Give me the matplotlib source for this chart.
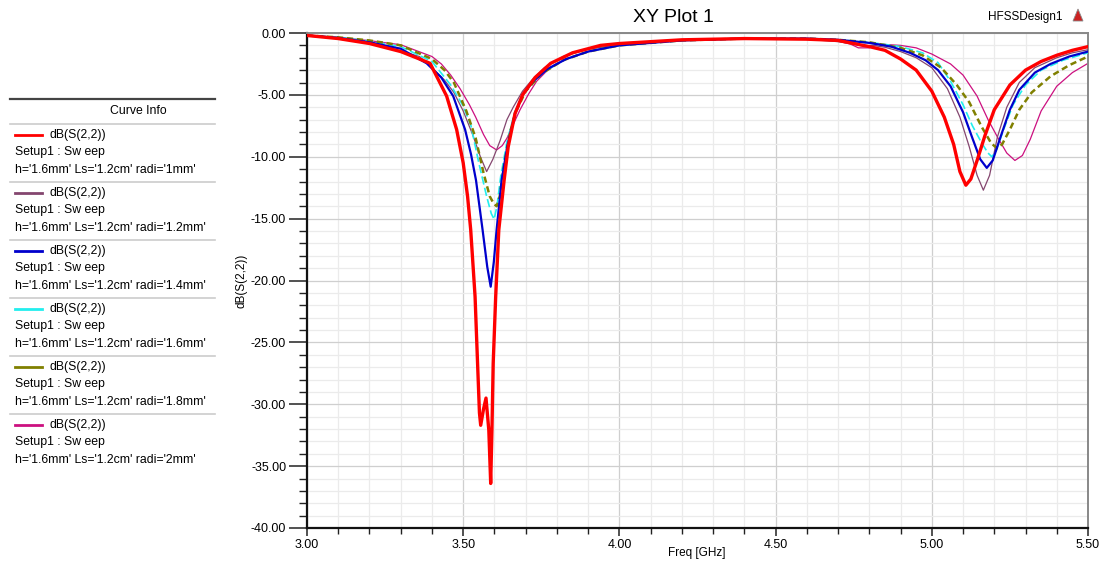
import matplotlib
matplotlib.use("Agg")
import matplotlib.pyplot as plt
from matplotlib.lines import Line2D
from matplotlib.patches import Polygon
from matplotlib.ticker import MultipleLocator, FormatStrFormatter

plt.rcParams['font.family'] = ['Liberation Sans Narrow', 'Liberation Sans', 'DejaVu Sans']

# values (freq in GHz, dB(S(2,2)))
freq_1mm = [3.00, 3.10, 3.20, 3.30, 3.36, 3.394, 3.447, 3.479, 3.500, 3.514, 3.524, 3.538, 3.546,
            3.552, 3.556, 3.565, 3.573, 3.582, 3.588, 3.592, 3.596, 3.604, 3.614, 3.631, 3.644,
            3.666, 3.69, 3.73, 3.78, 3.85, 3.94, 4.00, 4.20, 4.40, 4.60, 4.70, 4.80, 4.85, 4.90,
            4.95, 5.00, 5.04, 5.07, 5.09, 5.109, 5.125, 5.145, 5.17, 5.20, 5.25, 5.30, 5.35,
            5.40, 5.45, 5.50]
s22_1mm = [-0.2, -0.45, -0.85, -1.5, -2.1, -2.45, -5.1, -7.8, -10.5, -13.2, -15.9, -21.3, -26.7,
           -30.7, -31.7, -30.4, -29.5, -32.1, -36.4, -32.1, -26.7, -21.3, -15.9, -11.9, -9.2,
           -6.5, -5.0, -3.6, -2.45, -1.6, -1.0, -0.85, -0.55, -0.45, -0.5, -0.6, -1.1, -1.4, -2.1,
           -3.0, -4.7, -6.8, -9.0, -11.2, -12.3, -11.8, -10.3, -8.3, -6.2, -4.2, -3.0, -2.3,
           -1.8, -1.4, -1.1]

freq_12mm = [3.00, 3.10, 3.20, 3.30, 3.36, 3.40, 3.44, 3.47, 3.50, 3.53, 3.555, 3.575, 3.595,
             3.618, 3.64, 3.66, 3.69, 3.72, 3.76, 3.82, 3.90, 4.00, 4.20, 4.40, 4.60, 4.70,
             4.75, 4.78, 4.81, 4.85, 4.90, 4.95, 5.00, 5.05, 5.09, 5.12, 5.145, 5.165, 5.185,
             5.21, 5.24, 5.28, 5.33, 5.40, 5.45, 5.50]
s22_12mm = [-0.2, -0.35, -0.7, -1.45, -1.9, -2.8, -3.8, -4.8, -6.3, -8.2, -10.0, -11.2, -10.2,
            -8.7, -7.0, -6.0, -4.7, -3.8, -2.8, -1.9, -1.3, -0.95, -0.6, -0.45, -0.5, -0.7,
            -0.9, -1.05, -1.0, -1.15, -1.5, -2.0, -2.8, -4.5, -6.8, -9.2, -11.5, -12.7, -11.5,
            -8.4, -6.0, -4.0, -2.8, -2.0, -1.6, -1.35]

freq_14mm = [3.00, 3.10, 3.20, 3.30, 3.383, 3.43, 3.468, 3.506, 3.525, 3.541, 3.562, 3.577,
             3.588, 3.598, 3.607, 3.623, 3.641, 3.666, 3.69, 3.724, 3.77, 3.83, 3.90, 4.00,
             4.20, 4.40, 4.60, 4.70, 4.80, 4.87, 4.93, 4.98, 5.02, 5.06, 5.10, 5.13, 5.155,
             5.176, 5.195, 5.22, 5.25, 5.28, 5.33, 5.38, 5.44, 5.50]
s22_14mm = [-0.2, -0.4, -0.75, -1.27, -2.45, -3.6, -5.1, -7.8, -9.8, -11.9, -15.9, -18.9,
            -20.5, -18.5, -15.9, -11.9, -9.2, -6.5, -5.0, -3.9, -2.9, -2.1, -1.5, -1.0,
            -0.6, -0.45, -0.45, -0.55, -0.8, -1.1, -1.6, -2.2, -3.0, -4.3, -6.4, -8.5, -10.2,
            -10.9, -10.3, -8.4, -6.2, -4.6, -3.2, -2.5, -1.9, -1.5]

freq_16mm = [3.00, 3.10, 3.20, 3.30, 3.40, 3.46, 3.50, 3.525, 3.55, 3.575, 3.59, 3.599, 3.608,
             3.62, 3.64, 3.665, 3.70, 3.75, 3.82, 3.90, 4.00, 4.20, 4.40, 4.60, 4.70, 4.80,
             4.90, 4.97, 5.02, 5.06, 5.10, 5.13, 5.16, 5.18, 5.192, 5.205, 5.23, 5.26, 5.30,
             5.35, 5.42, 5.50]
s22_16mm = [-0.2, -0.35, -0.65, -1.1, -2.3, -4.2, -5.9, -7.5, -10.5, -13.2, -14.6, -15.05,
            -14.0, -11.6, -8.8, -6.4, -4.6, -3.3, -2.2, -1.5, -1.0, -0.6, -0.45, -0.45, -0.55,
            -0.75, -1.1, -1.6, -2.4, -3.9, -5.8, -7.5, -8.9, -9.7, -10.0, -9.6, -7.8, -5.8,
            -4.2, -3.0, -2.2, -1.6]

freq_18mm = [3.00, 3.10, 3.20, 3.30, 3.40, 3.44, 3.47, 3.51, 3.54, 3.565, 3.585, 3.598, 3.607,
             3.617, 3.63, 3.65, 3.67, 3.70, 3.75, 3.82, 3.90, 4.00, 4.20, 4.40, 4.60, 4.70,
             4.80, 4.90, 4.97, 5.03, 5.08, 5.12, 5.16, 5.19, 5.208, 5.225, 5.25, 5.28, 5.32,
             5.38, 5.44, 5.50]
s22_18mm = [-0.2, -0.35, -0.6, -1.0, -2.1, -3.0, -4.0, -6.3, -8.5, -11.3, -13.2, -13.8, -14.0,
            -13.2, -10.8, -8.0, -6.3, -4.7, -3.3, -2.2, -1.5, -1.0, -0.6, -0.45, -0.45, -0.55,
            -0.75, -1.2, -1.8, -2.8, -4.2, -5.6, -7.6, -8.9, -9.3, -9.0, -7.8, -6.2, -4.8,
            -3.5, -2.6, -1.9]

freq_2mm = [3.00, 3.10, 3.20, 3.30, 3.40, 3.43, 3.46, 3.49, 3.52, 3.54, 3.565, 3.585, 3.607,
            3.625, 3.64, 3.66, 3.682, 3.71, 3.735, 3.77, 3.82, 3.90, 4.00, 4.20, 4.40, 4.60,
            4.70, 4.74, 4.765, 4.80, 4.83, 4.90, 4.95, 5.00, 5.06, 5.10, 5.145, 5.18, 5.21,
            5.24, 5.266, 5.29, 5.315, 5.35, 5.40, 5.45, 5.50]
s22_2mm = [-0.2, -0.35, -0.62, -0.95, -1.9, -2.5, -3.4, -4.5, -5.8, -6.8, -8.2, -9.1, -9.45,
           -9.1, -8.5, -7.4, -6.2, -4.9, -3.9, -3.0, -2.2, -1.5, -1.0, -0.6, -0.45, -0.5,
           -0.65, -0.9, -1.2, -1.2, -0.9, -1.0, -1.2, -1.7, -2.5, -3.4, -5.1, -7.0, -8.4,
           -9.7, -10.3, -9.9, -8.6, -6.3, -4.3, -3.2, -2.45]

curve_names = ["1mm", "1.2mm", "1.4mm", "1.6mm", "1.8mm", "2mm"]
xticks = [3.00, 3.50, 4.00, 4.50, 5.00, 5.50]

series = [
    # (freq, s22, color, lw, linestyle, zorder)
    (freq_2mm, s22_2mm, "#cc1080", 0.9, "-", 2),
    (freq_12mm, s22_12mm, "#84466f", 0.9, "-", 3),
    (freq_16mm, s22_16mm, "#22eeee", 1.2, (0, (5, 2)), 4),
    (freq_18mm, s22_18mm, "#808000", 1.8, (0, (2.5, 1.5)), 5),
    (freq_14mm, s22_14mm, "#0000cc", 1.6, "-", 6),
    (freq_1mm, s22_1mm, "#ff0000", 2.4, "-", 7),
]
legend_colors = ["#ff0000", "#84466f", "#0000cc", "#22eeee", "#808000", "#cc1080"]

W, H = 1099, 561


def fx(px):
    return px / W


def fy(py):
    return 1 - py / H


fig = plt.figure(figsize=(10.99, 5.61), dpi=100)
ax = fig.add_axes([fx(307), fy(528), (1088 - 307) / W, (528 - 33) / H])

for f, s, c, lw, ls, z in series:
    ax.plot(f, s, color=c, lw=lw, ls=ls, zorder=z)

ax.set_xlim(3.0, 5.5)
ax.set_ylim(-40, 0)
ax.set_xticks(xticks)
ax.xaxis.set_minor_locator(MultipleLocator(0.1))
ax.yaxis.set_major_locator(MultipleLocator(5))
ax.yaxis.set_minor_locator(MultipleLocator(1))
ax.xaxis.set_major_formatter(FormatStrFormatter('%.2f'))
ax.yaxis.set_major_formatter(FormatStrFormatter('%.2f'))
ax.grid(which='major', color='#cfcfcf', lw=0.9)
ax.grid(which='minor', color='#ebebeb', lw=0.9)
ax.set_axisbelow(True)
ax.tick_params(which='major', labelsize=9, width=1.2, color='#333333')
ax.tick_params(which='minor', width=1.0, color='#222222')
ax.tick_params(axis='x', which='major', length=6, pad=2)
ax.tick_params(axis='x', which='minor', length=4)
ax.tick_params(axis='y', which='major', length=13, pad=2)
ax.tick_params(axis='y', which='minor', length=6)
for side in ['left', 'bottom']:
    ax.spines[side].set_color('#111111')
    ax.spines[side].set_linewidth(1.6)
for side in ['top', 'right']:
    ax.spines[side].set_color('#888888')
    ax.spines[side].set_linewidth(1.4)

fig.text(fx(697), fy(553), 'Freq [GHz]', ha='center', va='center', fontsize=8.5)
fig.text(fx(242), fy(281), 'dB(S(2,2))', ha='center', va='center', fontsize=8.5, rotation=90)

fig.text(fx(673), fy(17), 'XY Plot 1', ha='center', va='center', fontsize=14)
fig.text(fx(1025), fy(17), 'HFSSDesign1', ha='center', va='center', fontsize=8.5)
fig.patches.append(Polygon([[fx(1073), fy(21)], [fx(1083), fy(21)], [fx(1078), fy(9)]],
                           closed=True, transform=fig.transFigure,
                           facecolor='#cc2222', edgecolor='#888888', lw=0.6))

# legend panel (Curve Info)
fig.add_artist(Line2D([fx(10), fx(215)], [fy(99), fy(99)], color='#444444', lw=1.6))
fig.text(fx(138), fy(111), 'Curve Info', ha='center', va='center', fontsize=8.8)
fig.add_artist(Line2D([fx(10), fx(215)], [fy(124), fy(124)], color='#cccccc', lw=1.2))
for i, (name, col) in enumerate(zip(curve_names, legend_colors)):
    y0 = 135 + 58 * i
    fig.add_artist(Line2D([fx(15), fx(42)], [fy(y0), fy(y0)], color=col, lw=2))
    fig.text(fx(50), fy(y0), 'dB(S(2,2))', ha='left', va='center', fontsize=8.8)
    fig.text(fx(15), fy(y0 + 17.5), 'Setup1 : Sw eep', ha='left', va='center', fontsize=8.8)
    fig.text(fx(15), fy(y0 + 35), "h='1.6mm' Ls='1.2cm' radi='%s'" % name,
             ha='left', va='center', fontsize=8.8)
    if i < len(curve_names) - 1:
        fig.add_artist(Line2D([fx(10), fx(215)], [fy(y0 + 47), fy(y0 + 47)],
                              color='#cccccc', lw=1.2))

fig.savefig('out.png', dpi=100)
